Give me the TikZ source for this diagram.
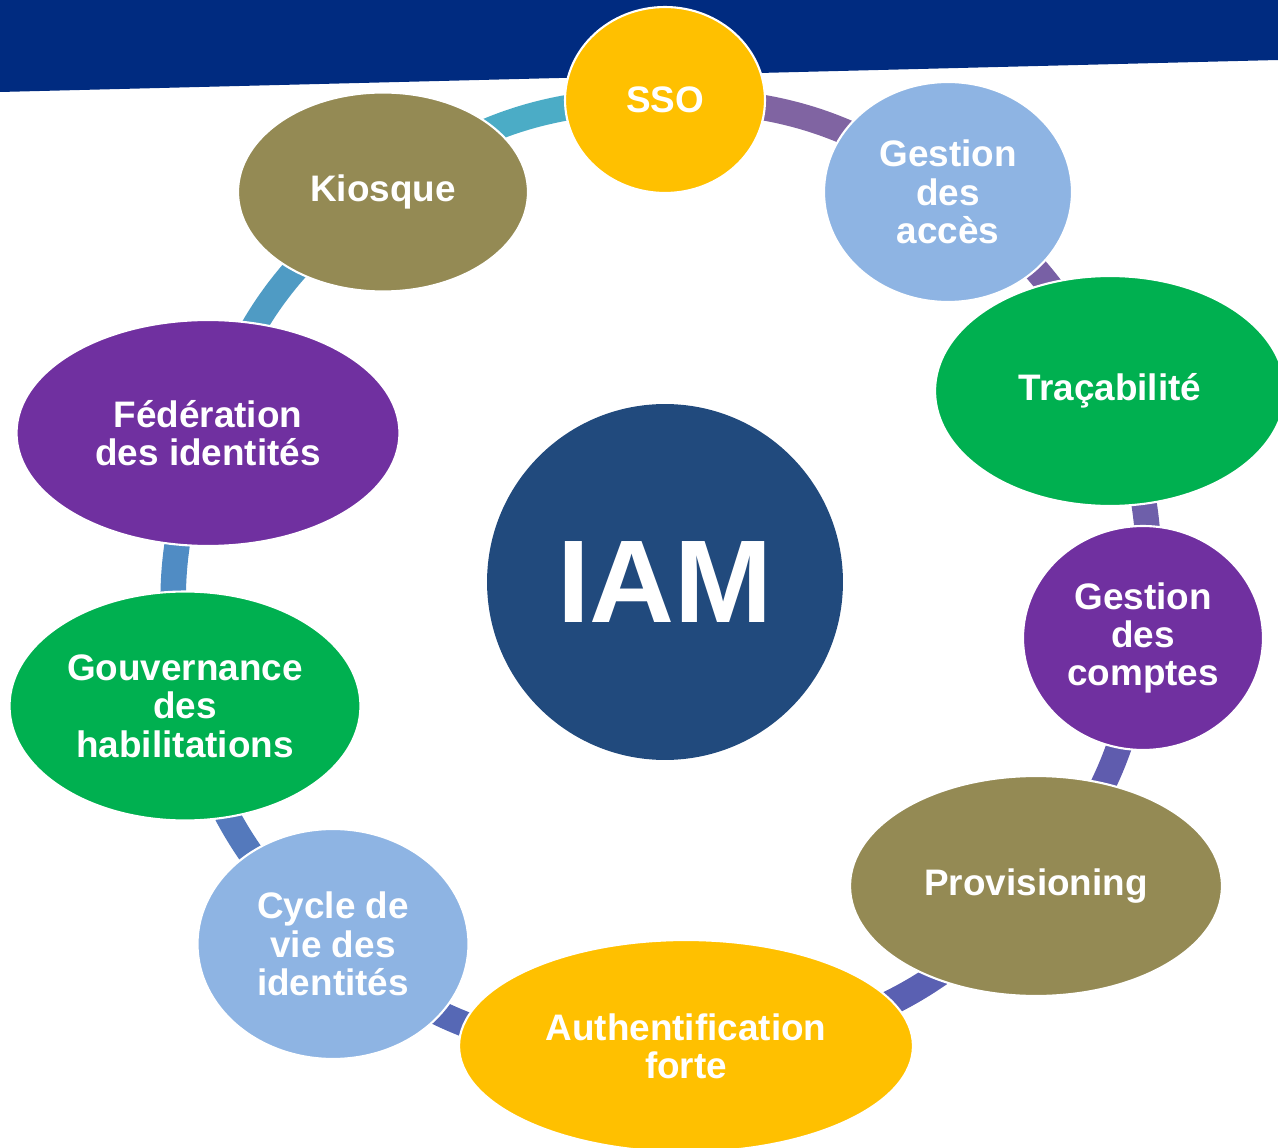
\documentclass[tikz,border=0pt]{standalone}
\usepackage{fontspec}
\setmainfont{Liberation Sans}
\usetikzlibrary{shapes.geometric,positioning}

\definecolor{banner}{RGB}{0,43,128}
\definecolor{gold}{RGB}{255,192,0}
\definecolor{sky}{RGB}{142,180,227}
\definecolor{leaf}{RGB}{0,176,80}
\definecolor{plum}{RGB}{112,48,160}
\definecolor{olive}{RGB}{148,138,84}
\definecolor{navy}{RGB}{33,74,125}
\definecolor{ringA}{RGB}{75,172,198}
\definecolor{ringB}{RGB}{79,155,196}
\definecolor{ringC}{RGB}{80,140,196}
\definecolor{ringD}{RGB}{84,121,188}
\definecolor{ringE}{RGB}{86,104,181}
\definecolor{ringF}{RGB}{90,96,178}
\definecolor{ringG}{RGB}{95,92,174}
\definecolor{ringH}{RGB}{110,95,170}
\definecolor{ringI}{RGB}{120,96,165}
\definecolor{ringJ}{RGB}{128,100,162}

\pgfdeclarelayer{background}
\pgfsetlayers{background,main}

\begin{document}
\begin{tikzpicture}[x=0.02cm,y=-0.02cm]

      \tikzstyle{bubble}=[ellipse,draw=white,line width=1.2pt,
        inner sep=0pt,text=white,align=center,
        font=\fontsize{21}{21.8}\selectfont\bfseries]
      \tikzstyle{ring}=[line width=14.5pt]

      \useasboundingbox (0,0) rectangle (1278,1148);
      \clip (0,0) rectangle (1278,1148);

      \node(SSO)[bubble,fill=gold,minimum width=4cm,
        minimum height=3.72cm] at (665,100) {SSO};
      \node(ACCES)[bubble,fill=sky,minimum width=4.96cm,
        minimum height=4.4cm] at (948,192) {Gestion\\des\\accès};
      \node(TRACE)[bubble,fill=leaf,minimum width=7cm,
        minimum height=4.6cm] at (1110,391) {Traçabilité};
      \node(COMPTES)[bubble,fill=plum,minimum width=4.8cm,
        minimum height=4.48cm] at (1143,638) {Gestion\\des\\comptes};
      \node(PROV)[bubble,fill=olive,minimum width=7.44cm,
        minimum height=4.4cm] at (1036,886) {Provisioning};
      \node(AUTH)[bubble,fill=gold,minimum width=9.08cm,
        minimum height=4.24cm] at (686,1046) {Authentification\\forte};
      \node(CYCLE)[bubble,fill=sky,minimum width=5.42cm,
        minimum height=4.6cm] at (333,944) {Cycle de\\vie des\\identités};
      \node(GOUV)[bubble,fill=leaf,minimum width=7.02cm,
        minimum height=4.58cm] at (185,706) {Gouvernance\\des\\habilitations};
      \node(FED)[bubble,fill=plum,minimum width=7.66cm,
        minimum height=4.52cm] at (208,433) {Fédération\\des identités};
      \node(KIOSQUE)[bubble,fill=olive,minimum width=5.8cm,
        minimum height=3.98cm] at (383,192) {Kiosque};

      \node(IAM)[circle,fill=navy,minimum size=7.12cm,inner sep=0pt,
        text=white,font=\fontsize{67}{67}\selectfont\bfseries]
        at (665,582) {IAM};

      % banner and ring go behind the bubbles
      \begin{pgfonlayer}{background}
      \fill[banner] (0,0) -- (1278,0) -- (1278,60) -- (0,92) -- cycle;
      \draw [ring,ringJ] (SSO.center) to[bend left=18] (ACCES.center);
      \draw [ring,ringI] (ACCES.center) to[bend left=15] (TRACE.center);
      \draw [ring,ringH] (TRACE.center) to[bend left=15] (COMPTES.center);
      \draw [ring,ringG] (COMPTES.center) to[bend left=16] (PROV.center);
      \draw [ring,ringF] (PROV.center) to[bend left=24] (AUTH.center);
      \draw [ring,ringE] (AUTH.center) to[bend left=23] (CYCLE.center);
      \draw [ring,ringD] (CYCLE.center) to[bend left=16] (GOUV.center);
      \draw [ring,ringC] (GOUV.center) to[bend left=16] (FED.center);
      \draw [ring,ringB] (FED.center) to[bend left=18] (KIOSQUE.center);
      \draw [ring,ringA] (KIOSQUE.center) to[bend left=18] (SSO.center);
      \end{pgfonlayer}

    \end{tikzpicture}
\end{document}
